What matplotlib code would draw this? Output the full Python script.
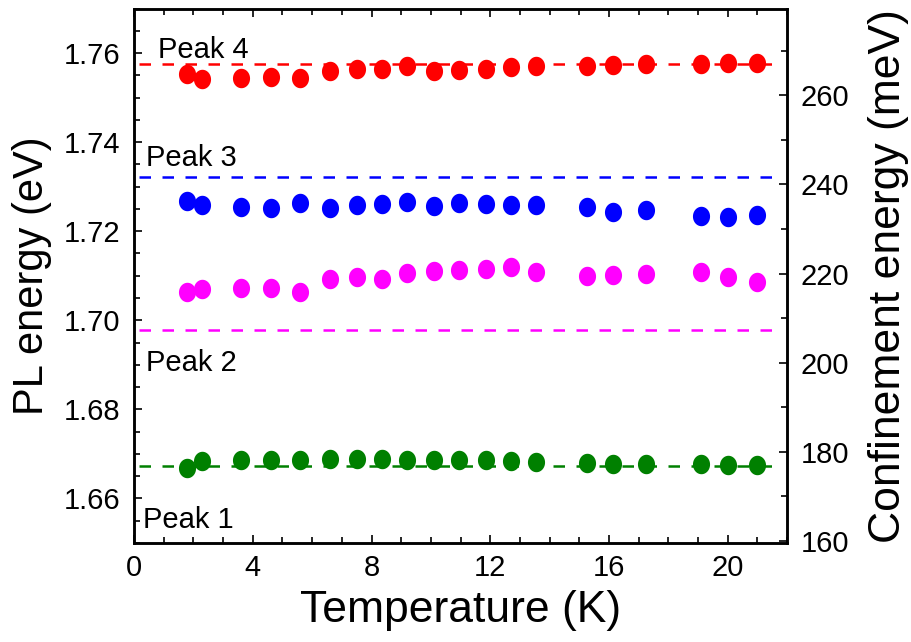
import matplotlib
matplotlib.use("Agg")
import matplotlib.pyplot as plt
import numpy as np
from matplotlib.path import Path
from matplotlib.ticker import MultipleLocator, FormatStrFormatter

plt.rcParams['font.family'] = ['Liberation Sans', 'DejaVu Sans']

temperature = [1.8, 2.3, 3.6, 4.6, 5.6, 6.6, 7.5, 8.35, 9.2, 10.1, 10.95, 11.85,
               12.7, 13.55, 15.25, 16.15, 17.25, 19.1, 20.0, 21.0]

peak4 = [1.7553, 1.7542, 1.7545, 1.7547, 1.7544, 1.7559, 1.7564, 1.7565, 1.7571, 1.7561,
         1.7562, 1.7564, 1.7568, 1.7571, 1.7571, 1.7573, 1.7575, 1.7576, 1.7577, 1.7579]
peak3 = [1.7268, 1.7258, 1.7255, 1.7253, 1.7264, 1.7253, 1.7258, 1.7262, 1.7266, 1.7257,
         1.7263, 1.7261, 1.7260, 1.7258, 1.7255, 1.7244, 1.7248, 1.7234, 1.7233, 1.7236]
peak2 = [1.7063, 1.7070, 1.7072, 1.7073, 1.7064, 1.7092, 1.7098, 1.7093, 1.7107, 1.7111,
         1.7113, 1.7115, 1.7119, 1.7108, 1.7100, 1.7102, 1.7104, 1.7108, 1.7098, 1.7087]
peak1 = [1.6669, 1.6684, 1.6685, 1.6686, 1.6687, 1.6689, 1.6688, 1.6688, 1.6685, 1.6686,
         1.6686, 1.6685, 1.6683, 1.6682, 1.6680, 1.6677, 1.6676, 1.6676, 1.6675, 1.6675]

peak_names = ["Peak 1", "Peak 2", "Peak 3", "Peak 4"]
peak_colors = ["#008000", "#FF00FF", "#0000FF", "#FF0000"]
reference_energy = [1.6673, 1.6977, 1.7321, 1.7575]
line_T_range = [0.15, 21.7]
label_pos = [(0.3, 1.6552), (0.4, 1.6905), (0.4, 1.7365), (0.8, 1.7607)]

confinement_offset = 1.4905  # eV

# slightly tall elliptical marker
theta = np.linspace(0, 2 * np.pi, 60)
ellipse = Path(np.column_stack([0.88 * np.cos(theta), np.sin(theta)]), closed=True)

fig = plt.figure(figsize=(9.12, 6.42), dpi=100)
ax = fig.add_axes([0.147, 0.1545, 0.716, 0.832])

series = [peak1, peak2, peak3, peak4]
for name, col, ref, pos, vals in zip(peak_names, peak_colors, reference_energy, label_pos, series):
    ax.hlines(ref, line_T_range[0], line_T_range[1], colors=col, linestyles=(0, (4.6, 4.6)),
              linewidth=1.8, zorder=2)
    ax.plot(temperature, vals, linestyle='none', marker=ellipse, color=col,
            markersize=14, markeredgewidth=0, zorder=3)
    ax.text(pos[0], pos[1], name, fontsize=21, color='black', ha='left', va='center', zorder=4)

ax.set_xlim(0, 22)
ax.set_ylim(1.65, 1.77)
ax.xaxis.set_major_locator(MultipleLocator(4))
ax.xaxis.set_minor_locator(MultipleLocator(1))
ax.yaxis.set_major_locator(MultipleLocator(0.02))
ax.yaxis.set_minor_locator(MultipleLocator(0.005))
ax.yaxis.set_major_formatter(FormatStrFormatter('%.2f'))

ax.set_xlabel("Temperature (K)", fontsize=32, labelpad=6)
ax.set_ylabel("PL energy (eV)", fontsize=30, labelpad=8)

for sp in ax.spines.values():
    sp.set_linewidth(1.8)

ax.tick_params(which='both', direction='in', top=True, right=False, width=1.2, labelsize=21)
ax.tick_params(which='major', length=6, pad=8)
ax.tick_params(which='minor', length=4)
ax.tick_params(axis='y', which='major', pad=10)

ax2 = ax.twinx()
ax2.set_ylim((1.65 - confinement_offset) * 1000, (1.77 - confinement_offset) * 1000)
ax2.yaxis.set_major_locator(MultipleLocator(20))
ax2.yaxis.set_minor_locator(MultipleLocator(10))
ax2.tick_params(which='both', direction='in', width=1.2, labelsize=21)
ax2.tick_params(which='major', length=6, pad=10)
ax2.tick_params(which='minor', length=4)
ax2.set_ylabel("Confinement energy (meV)", fontsize=32, labelpad=13)
for sp in ax2.spines.values():
    sp.set_linewidth(1.8)

fig.savefig("out.png", dpi=100)
